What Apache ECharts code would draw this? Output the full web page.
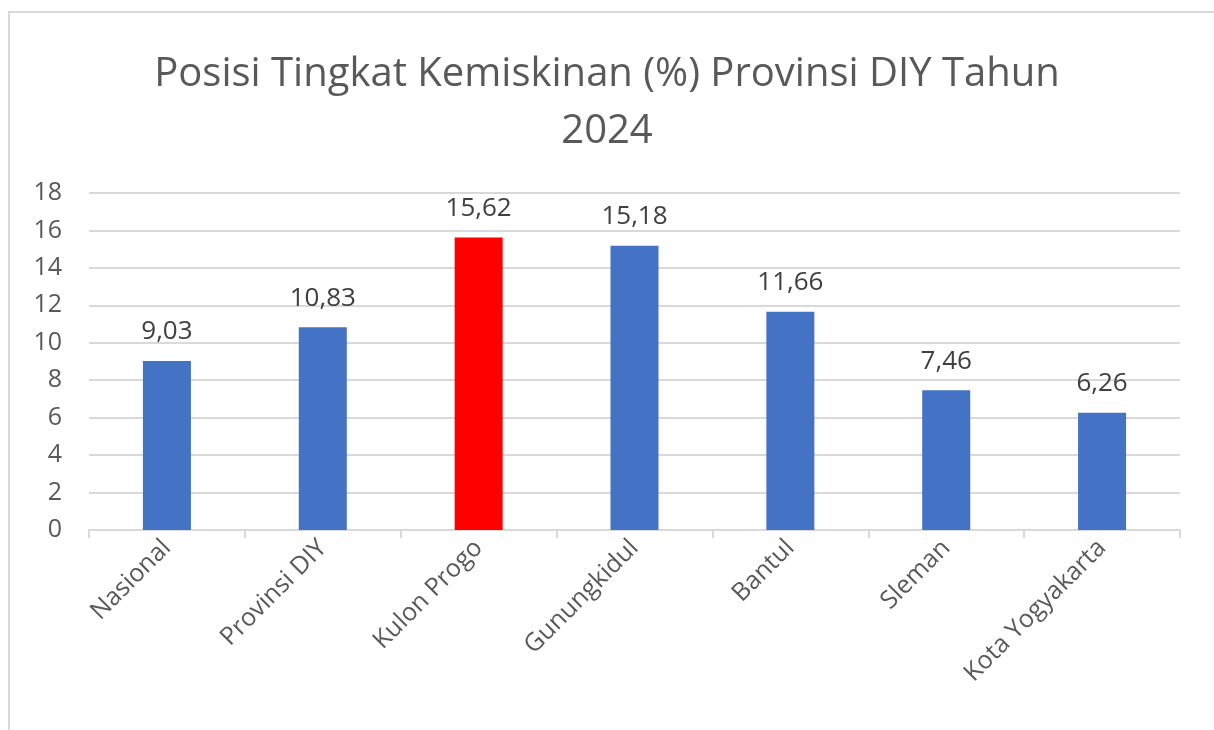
<!DOCTYPE html>
<html>
<head>
<meta charset="utf-8">
<script src="https://cdn.jsdelivr.net/npm/echarts@6/dist/echarts.min.js"></script>
<style>
html,body{margin:0;padding:0;background:#fff;}
#chart{width:1214px;height:730px;}
</style>
</head>
<body>
<div id="chart"></div>
<script>
var categories = ['Nasional','Provinsi DIY','Kulon Progo','Gunungkidul','Bantul','Sleman','Kota Yogyakarta'];
var values = [9.03, 10.83, 15.62, 15.18, 11.66, 7.46, 6.26];
var highlight = 'Kulon Progo';

var font = '"Open Sans", Lato, sans-serif';

var myChart = echarts.init(document.getElementById('chart'));
var options = {
    backgroundColor: '#fff',
    animation: false,
    title: {
        text: 'Posisi Tingkat Kemiskinan (%) Provinsi DIY Tahun\n2024',
        left: 'center',
        top: 41,
        textStyle: {
            fontFamily: font,
            fontSize: 40,
            fontWeight: 'normal',
            color: '#595959',
            lineHeight: 57
        }
    },
    graphic: [{
        type: 'rect',
        shape: {x: 9, y: 12, width: 1240, height: 760},
        style: {fill: 'none', stroke: '#d9d9d9', lineWidth: 2},
        silent: true
    }],
    grid: {left: 89, right: 34, top: 193, bottom: 200},
    xAxis: {
        type: 'category',
        data: categories,
        axisLine: {lineStyle: {color: '#d9d9d9', width: 2}},
        axisTick: {show: true, length: 8, lineStyle: {color: '#d9d9d9', width: 2}},
        axisLabel: {
            rotate: 45,
            margin: 14,
            interval: 0,
            fontFamily: font,
            fontSize: 25,
            color: '#595959'
        }
    },
    yAxis: {
        type: 'value',
        min: 0,
        max: 18,
        interval: 2,
        axisLine: {show: false},
        axisTick: {show: false},
        splitLine: {lineStyle: {color: '#d9d9d9', width: 2}},
        axisLabel: {
            margin: 27,
            fontFamily: font,
            fontSize: 25,
            color: '#595959'
        }
    },
    series: [{
        type: 'bar',
        barWidth: 48,
        data: values.map(function (v, i) {
            return {
                value: v,
                itemStyle: {color: categories[i] === highlight ? '#ff0000' : '#4472c4'}
            };
        }),
        label: {
            show: true,
            position: 'top',
            distance: 16,
            fontFamily: font,
            fontSize: 26,
            color: '#404040',
            formatter: function (p) {
                return p.value.toFixed(2).replace('.', ',');
            }
        }
    }]
};
myChart.setOption(options);
</script>
</body>
</html>
